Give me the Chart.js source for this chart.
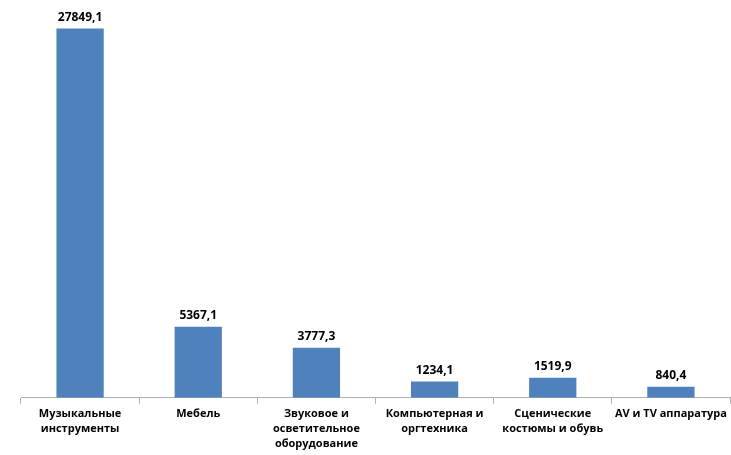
<!DOCTYPE html>
<html>
<head>
<meta charset="utf-8">
<script src="https://cdn.jsdelivr.net/npm/chart.js@4.4.0/dist/chart.umd.min.js"></script>
<style>
  body { margin: 0; background: #fff; }
  #wrap { width: 731px; height: 455px; position: relative; }
</style>
</head>
<body>
<div id="wrap"><canvas id="barChart"></canvas></div>
<script>
// data
const categories = [
    ['Музыкальные', 'инструменты'],
    'Мебель',
    ['Звуковое и', 'осветительное', 'оборудование'],
    ['Компьютерная и', 'оргтехника'],
    ['Сценические', 'костюмы и обувь'],
    'AV и TV аппаратура'
];
const values = [27849.1, 5367.1, 3777.3, 1234.1, 1519.9, 840.4];
const valueLabels = ['27849,1', '5367,1', '3777,3', '1234,1', '1519,9', '840,4'];

// value labels above the bars
const barLabels = {
    id: 'barLabels',
    afterDatasetsDraw(chart) {
        const ctx = chart.ctx;
        const meta = chart.getDatasetMeta(0);
        ctx.save();
        ctx.font = 'bold 12px "Open Sans"';
        ctx.fillStyle = '#000';
        ctx.textAlign = 'center';
        ctx.textBaseline = 'bottom';
        meta.data.forEach((bar, i) => {
            ctx.fillText(valueLabels[i], bar.x, bar.y - 5);
        });
        ctx.restore();
    }
};

const ctx = document.getElementById('barChart').getContext('2d');
const barChart = new Chart(ctx, {
    type: 'bar',
    data: {
        labels: categories,
        datasets: [{
            data: values,
            backgroundColor: '#4f81bd',
            barPercentage: 1,
            categoryPercentage: 0.4
        }]
    },
    options: {
        responsive: true,
        maintainAspectRatio: false,
        animation: false,
        layout: {
            padding: { left: 21, right: 1, top: 0, bottom: 1 }
        },
        plugins: {
            legend: { display: false },
            tooltip: { enabled: false }
        },
        scales: {
            x: {
                grid: {
                    offset: true,
                    drawOnChartArea: false,
                    tickLength: 6,
                    color: '#b0b0b0'
                },
                border: { color: '#b0b0b0' },
                ticks: {
                    color: '#000',
                    padding: 2,
                    maxRotation: 0,
                    autoSkip: false,
                    font: { family: 'Open Sans', size: 11, weight: 'bold', lineHeight: 1.4 }
                }
            },
            y: {
                display: false,
                min: 0,
                max: 30000
            }
        }
    },
    plugins: [barLabels]
});
</script>
</body>
</html>
